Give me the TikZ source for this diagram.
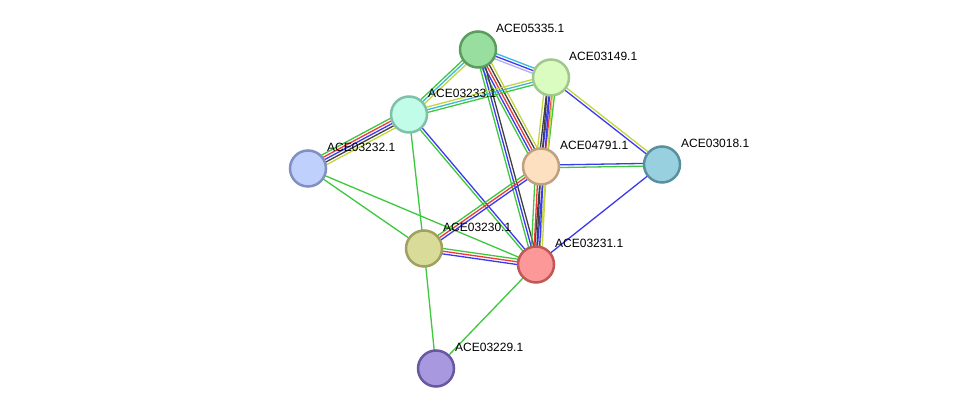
\documentclass[tikz,border=0pt]{standalone}
\usepackage{fontspec}
\setmainfont{Liberation Sans}
\usetikzlibrary{calc}
\pgfdeclarelayer{background}
\pgfsetlayers{background,main}
\definecolor{sg}{HTML}{3DC83D}
\definecolor{sb}{HTML}{3A3AF0}
\definecolor{sr}{HTML}{F03A3A}
\definecolor{sk}{HTML}{404040}
\definecolor{sy}{HTML}{C4D63C}
\definecolor{sc}{HTML}{3CB8DC}
\definecolor{sl}{HTML}{B4AEF8}
\tikzset{
  prot/.style={circle, minimum size=36pt, inner sep=0pt, line width=2.5pt},
  lbl/.style={anchor=base west, font=\fontsize{12}{14}\selectfont, inner sep=0pt, text=black},
  edg/.style={line width=1.3pt}
}
\newcommand{\medge}[4]{%
  \foreach \cc [count=\ii] in {#4} {%
    \pgfmathsetlengthmacro{\oo}{(\ii-(#3+1)/2)*2.7pt}%
    \draw[edg, color=\cc] ($(#1.center)!\oo!90:(#2.center)$) -- ($(#2.center)!\oo!-90:(#1.center)$);
  }}
\begin{document}
\begin{tikzpicture}[x=1pt,y=1pt]
\useasboundingbox (0,0) rectangle (976,414);
% nodes (image y flipped)
\node[prot, fill={rgb,255:red,152;green,222;blue,158}, draw={rgb,255:red,90;green,158;blue,94}] (a05335) at (478,364.5) {};
\node[prot, fill={rgb,255:red,218;green,252;blue,192}, draw={rgb,255:red,160;green,200;blue,140}] (a03149) at (551,336.5) {};
\node[prot, fill={rgb,255:red,192;green,252;blue,232}, draw={rgb,255:red,128;green,192;blue,168}] (a03233) at (409,299.5) {};
\node[prot, fill={rgb,255:red,192;green,208;blue,252}, draw={rgb,255:red,128;green,144;blue,192}] (a03232) at (308,245.5) {};
\node[prot, fill={rgb,255:red,252;green,224;blue,192}, draw={rgb,255:red,192;green,160;blue,128}] (a04791) at (541,247.5) {};
\node[prot, fill={rgb,255:red,152;green,208;blue,224}, draw={rgb,255:red,88;green,144;blue,160}] (a03018) at (662,249.5) {};
\node[prot, fill={rgb,255:red,216;green,220;blue,152}, draw={rgb,255:red,160;green,160;blue,96}] (a03230) at (424,165.5) {};
\node[prot, fill={rgb,255:red,252;green,152;blue,152}, draw={rgb,255:red,192;green,88;blue,88}] (a03231) at (536,149.5) {};
\node[prot, fill={rgb,255:red,168;green,152;blue,224}, draw={rgb,255:red,104;green,88;blue,160}] (a03229) at (436,45.5) {};
% labels
\node[lbl] (l05335) at ($(a05335.center)+(18,17)$) {ACE05335.1};
\node[lbl] (l03149) at ($(a03149.center)+(18,17)$) {ACE03149.1};
\node[lbl] (l03233) at ($(a03233.center)+(19,17)$) {ACE03233.1};
\node[lbl] (l03232) at ($(a03232.center)+(19,17)$) {ACE03232.1};
\node[lbl] (l04791) at ($(a04791.center)+(19,17)$) {ACE04791.1};
\node[lbl] (l03018) at ($(a03018.center)+(19,17)$) {ACE03018.1};
\node[lbl] (l03230) at ($(a03230.center)+(19,17)$) {ACE03230.1};
\node[lbl] (l03231) at ($(a03231.center)+(19,17)$) {ACE03231.1};
\node[lbl] (l03229) at ($(a03229.center)+(19,17)$) {ACE03229.1};
% edges
\begin{pgfonlayer}{background}
\fill[white] (0,0) rectangle (976,414);
\medge{a05335}{a03149}{3}{sl,sb,sc}
\medge{a05335}{a03233}{3}{sg,sc,sy}
\medge{a05335}{a04791}{5}{sg,sb,sr,sk,sy}
\medge{a05335}{a03231}{3}{sg,sb,sk}
\medge{a03233}{a03149}{3}{sg,sc,sy}
\medge{a03149}{a04791}{5}{sy,sk,sb,sr,sg}
\medge{a03149}{a03231}{3}{sk,sb,sy}
\medge{a03149}{a03018}{2}{sb,sy}
\medge{a04791}{a03231}{5}{sg,sr,sk,sb,sy}
\medge{a04791}{a03018}{2}{sg,sb}
\medge{a03233}{a03232}{5}{sg,sr,sb,sk,sy}
\medge{a03233}{a03231}{2}{sg,sb}
\medge{a03233}{a03230}{1}{sg}
\medge{a03230}{a04791}{3}{sb,sr,sg}
\medge{a03230}{a03231}{3}{sb,sr,sg}
\medge{a03230}{a03229}{1}{sg}
\medge{a03232}{a03230}{1}{sg}
\medge{a03232}{a03231}{1}{sg}
\medge{a03018}{a03231}{1}{sb}
\medge{a03231}{a03229}{1}{sg}
\end{pgfonlayer}
\end{tikzpicture}
\end{document}
